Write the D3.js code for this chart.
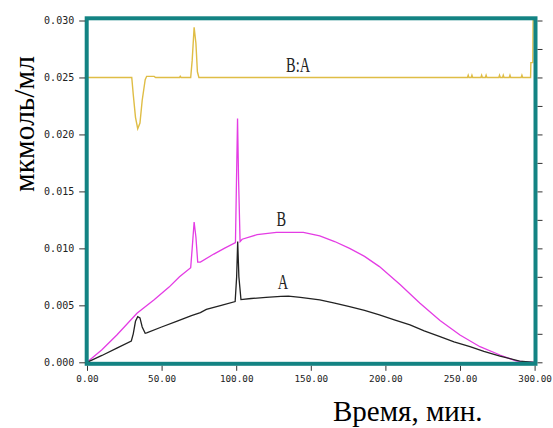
<!DOCTYPE html>
<html>
<head>
<meta charset="utf-8">
<script src="https://cdn.jsdelivr.net/npm/d3@7"></script>
<style>
  body { margin: 0; background: #fff; }
  svg { display: block; }
</style>
</head>
<body>
<div id="chart"></div>
<script>
// time (min) / concentration pairs
const seriesA = [
  [0, 0], [10, 0.0006], [20, 0.00125], [29.7, 0.00187], [31, 0.0025], [32.5, 0.0036],
  [34, 0.0040], [35.5, 0.0039], [37, 0.0031], [39, 0.00255], [40, 0.00258], [50, 0.0031],
  [60, 0.0036], [70, 0.0041], [76, 0.00436], [80, 0.00465], [90, 0.0050], [99.3, 0.00533],
  [100.3, 0.0075], [101, 0.0106], [101.8, 0.0075], [103.2, 0.0055], [110, 0.0056],
  [120, 0.0057], [130, 0.00578], [135, 0.0058], [143, 0.0057], [156, 0.00547], [166, 0.0052],
  [176, 0.00489], [186, 0.00455], [196, 0.00416], [206, 0.00372], [216.5, 0.00328],
  [226, 0.00275], [236.6, 0.00225], [246, 0.0018], [256.7, 0.00137], [266, 0.00095],
  [276.8, 0.00055], [290, 0.0001], [300, 0]
];
const seriesB = [
  [0, 0], [10, 0.0011], [20, 0.0024], [33.5, 0.0043], [45, 0.0055], [55, 0.0066], [62, 0.0075],
  [69.5, 0.0083], [70.5, 0.0100], [71.8, 0.0123], [73, 0.0110], [74.2, 0.0088], [76, 0.0088],
  [85, 0.0095], [92, 0.0100], [99.5, 0.0105], [100.2, 0.016], [100.9, 0.0214], [101.6, 0.016],
  [102.6, 0.0106], [104, 0.0108], [114, 0.0112], [127, 0.0114], [145, 0.0114], [156, 0.0111],
  [166, 0.0106], [176, 0.0100], [186, 0.0093], [196, 0.0084], [210, 0.0068], [223, 0.0052],
  [236.6, 0.00366], [250, 0.0024], [263.4, 0.00137], [276.8, 0.00064], [288, 0.0001], [300, 0]
];
const seriesBA = [
  [0, 0.025], [30, 0.025], [31, 0.0235], [32.5, 0.0215], [34, 0.0205], [35.5, 0.0210],
  [37, 0.0230], [39, 0.0248], [40, 0.0251], [45, 0.0251], [46, 0.025], [62, 0.025], [62.5, 0.0251],
  [63, 0.025], [69.5, 0.025], [70.5, 0.0265], [71.8, 0.0294], [73, 0.0280], [74, 0.0255],
  [75, 0.025], [255, 0.025], [255.5, 0.0252], [256, 0.025], [257.5, 0.025], [258, 0.0252],
  [258.5, 0.025], [264, 0.025], [264.5, 0.0252], [265, 0.025], [267, 0.025], [267.5, 0.0252],
  [268, 0.025], [276, 0.025], [276.5, 0.0252], [277, 0.025], [278.5, 0.025], [279, 0.0252],
  [279.5, 0.025], [283, 0.025], [283.5, 0.0252], [284, 0.025], [291, 0.025], [291.5, 0.0252],
  [292, 0.025], [297.3, 0.025], [297.5, 0.0263], [298.8, 0.0263], [299, 0.030], [300, 0.030]
];
const xTicks = [0, 50, 100, 150, 200, 250, 300];
const yTicks = [0, 0.005, 0.010, 0.015, 0.020, 0.025, 0.030];
const yMinorTicks = [0, 0.0025, 0.005, 0.0075, 0.010, 0.0125, 0.015, 0.0175, 0.020, 0.0225, 0.025, 0.0275, 0.030];
const curveLabels = [
  { text: "B:A", x: 141.5, y: 0.0255 },
  { text: "B", x: 130.3, y: 0.0120 },
  { text: "A", x: 131.4, y: 0.0064 }
];

const width = 553, height = 428;
const frame = { left: 86.7, right: 535.5, top: 18.3, bottom: 363.8 };

const svg = d3.select("#chart").append("svg")
  .attr("width", width)
  .attr("height", height);

const x = d3.scaleLinear().domain([0, 300]).range([87, 534.6]);
const y = d3.scaleLinear().domain([0, 0.030]).range([362.3, 20.5]);

const line = d3.line().x(d => x(d[0])).y(d => y(d[1]));

const plot = svg.append("g");

plot.append("path").datum(seriesBA)
  .attr("fill", "none").attr("stroke", "#dfbd45").attr("stroke-width", 1.4)
  .attr("d", line);
plot.append("path").datum(seriesB)
  .attr("fill", "none").attr("stroke", "#e43ce4").attr("stroke-width", 1.3)
  .attr("d", line);
plot.append("path").datum(seriesA)
  .attr("fill", "none").attr("stroke", "#222").attr("stroke-width", 1.3)
  .attr("d", line);

// curve names
plot.selectAll(".clabel")
  .data(curveLabels)
  .enter()
  .append("text")
    .attr("class", "clabel")
    .attr("transform", d => `translate(${x(d.x)},${y(d.y)}) scale(0.72,1)`)
    .attr("text-anchor", "middle")
    .attr("font-family", "Liberation Serif")
    .attr("font-size", 20)
    .attr("fill", "#222")
    .text(d => d.text);

// frame
svg.append("rect")
  .attr("x", frame.left).attr("y", frame.top)
  .attr("width", frame.right - frame.left)
  .attr("height", frame.bottom - frame.top)
  .attr("fill", "none")
  .attr("stroke", "#138383")
  .attr("stroke-width", 4);

// axes
const yAxis = d3.axisLeft(y)
  .tickValues(yTicks)
  .tickFormat(d3.format(".3f"))
  .tickSize(6)
  .tickPadding(5);

const gy = svg.append("g")
  .attr("transform", `translate(${frame.left - 1.5},0)`)
  .call(yAxis);

const xAxis = d3.axisBottom(x)
  .tickValues(xTicks)
  .tickFormat(d3.format(".2f"))
  .tickSize(5)
  .tickPadding(5);

const gx = svg.append("g")
  .attr("transform", `translate(0,${frame.bottom + 2})`)
  .call(xAxis);

const yRight = d3.axisRight(y)
  .tickValues(yMinorTicks)
  .tickFormat("")
  .tickSize(5);

const gr = svg.append("g")
  .attr("transform", `translate(${frame.right + 2},0)`)
  .call(yRight);

[gx, gy, gr].forEach(g => {
  g.select(".domain").remove();
  g.selectAll(".tick line").attr("stroke", "#333");
  g.selectAll(".tick text")
    .attr("font-family", "DejaVu Sans Mono")
    .attr("fill", "#222");
});
gy.selectAll(".tick text").attr("font-size", 10);
gx.selectAll(".tick text").attr("font-size", 9.3);

// titles
svg.append("text")
  .attr("transform", "translate(34,124) rotate(-90)")
  .attr("text-anchor", "middle")
  .attr("font-family", "Liberation Serif")
  .attr("font-size", 29.5)
  .attr("fill", "#000")
  .text("мкмоль/мл");

svg.append("text")
  .attr("x", 333)
  .attr("y", 421)
  .attr("font-family", "Liberation Serif")
  .attr("font-size", 29)
  .attr("fill", "#000")
  .text("Время, мин.");
</script>
</body>
</html>
